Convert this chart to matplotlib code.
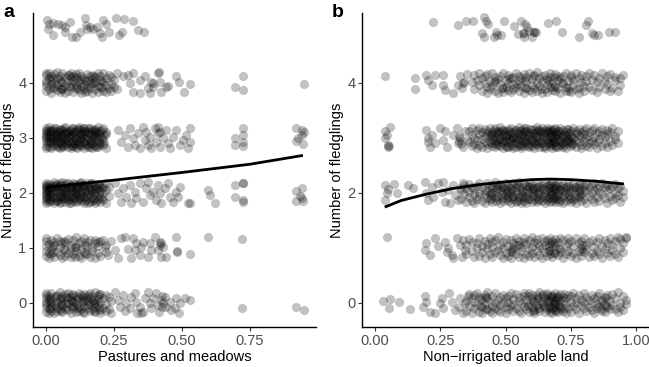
import matplotlib
matplotlib.use("Agg")
import matplotlib.pyplot as plt

plt.rcParams['font.family'] = ['Liberation Sans', 'DejaVu Sans']

# points: (x in %, [vertical jitter in hundredths]) per fledgling count
# ---- panel a: pastures and meadows ----
a0 = [(0,[15,-8,2,-17,9,-3,18]),(1,[-12,6,-19,12]),(2,[3,-6,17,-14]),(3,[10,-2,-18]),(4,[-9,14,1,-15]),
      (5,[7,-11,19]),(6,[-4,12,-16,4]),(7,[16,-7,0]),(8,[-13,8,-1,18]),(9,[5,-18,11]),(10,[-6,15,-10,2]),
      (11,[13,-3,-17]),(12,[-8,9,18,-14]),(13,[1,-12,14]),(14,[-19,6,-5,16]),(15,[11,-9,3]),(16,[-15,17,-2,8]),
      (17,[4,-11,13]),(18,[-7,19,-16,0]),(19,[12,-4,7]),(20,[-13,2,16,-18]),(21,[9,-9]),(22,[-2,15,-14]),
      (1.5,[0,-10,9]),(3.5,[12,-6]),(5.5,[-2,-15,8]),(7.5,[10,-12]),(9.5,[-5,4,16]),(11.5,[7,-10]),
      (13.5,[-16,3,10]),(15.5,[-4,15]),(17.5,[6,-14,-1]),(19.5,[16,-9]),
      (23,[-12,10]),(24,[3,-18]),(25.2,[19]),(26.5,[5]),(27.3,[-7]),(28.3,[14]),(29,[-14]),(29.5,[0]),(30.8,[-10]),
      (31.4,[11]),(32.6,[17]),(33.2,[2]),(33.5,[-19]),(34.4,[-7]),(35.0,[-19]),(35.7,[-16]),(36.3,[8]),(37.5,[19]),
      (38.1,[-1]),(38.7,[-10]),(39.3,[8]),(40.6,[17]),(41.2,[-4]),(41.5,[-16]),(42.4,[5]),(42.8,[-8,12]),(43.2,[0]),
      (43.6,[11]),(44.2,[-7]),(45.5,[2]),(46.1,[-13]),(47.3,[-10]),(47.9,[8]),(48.9,[-18]),(49.1,[-1]),(51.0,[8]),
      (52.8,[5]),(72.2,[-10]),(92,[-7]),(95,[-13])]
a1 = [(0,[12,-5,18,-14,3]),(1,[-9,7,-18]),(2,[15,-2,-12]),(3,[5,-16,10]),(4,[-7,17]),(5,[1,-13,13]),(6,[-18,8]),
      (7,[11,-4,-15]),(8,[16,-9]),(9,[-1,6,-17]),(10,[14,-11]),(11,[-6,19,2]),(12,[8,-14]),(13,[-3,12,-19]),
      (14,[17,-8]),(15,[4,-12,10]),(16,[-16,15]),(17,[0,-6]),(18,[9,-18]),(19,[-10,3]),(20,[13,-15]),(22,[-7,6]),
      (2.5,[4,-8]),(6.5,[-3,12]),(10.5,[2,-16]),(14.5,[-12,6]),
      (17.9,[14]),(19.1,[10]),(21.0,[14]),(21.6,[2]),(22.8,[-13]),(24.0,[13]),(25.2,[-4]),(26.5,[-19]),(27.7,[18]),
      (28.9,[19]),(30.1,[-2]),(31.4,[-19]),(32.0,[18]),(32.6,[-4]),(33.2,[8]),(34.4,[-13]),(35.0,[2]),(35.7,[11]),
      (37.5,[-16]),(38.1,[8]),(38.7,[-4]),(40.0,[19]),(41.2,[-4]),(41.8,[6,10]),(42.4,[-16,8]),(43,[2]),(44.2,[-16]),
      (47.9,[19]),(48,[-8]),(48.2,[-5]),(52.8,[-11]),(59.6,[19]),(72.2,[16])]
a2 = [(0,[18,12,5,-2,-9,-15,-19,8,-5,15,0]),(0.5,[-12,10,3]),(1,[16,-7,-17,6,1]),(2,[-3,13,-14,9]),
      (3,[19,-10,4,-18,11]),(4,[-6,8,-15,15]),(5,[2,-19,12,-8,17]),(6,[-12,6,-2,19]),(7,[14,-16,3,-9,9]),
      (8,[-4,17,-13,7]),(9,[11,-7,-18,0,15]),(10,[-15,5,18,-10]),(11,[8,-3,13,-17,2]),(12,[-11,16,-6,10]),
      (13,[19,-14,4,-1]),(14,[-8,12,-18,7,15]),(15,[3,-12,17,-5]),(16,[-16,9,-2,14]),(17,[6,-9,18,-14]),
      (18,[-4,13,-19,1]),(19,[16,-11,8]),(20,[-7,4,-16,12]),(21,[10,-13,0]),(22,[-18,17,5]),(23,[-6,11]),
      (1.5,[-4,9,-13]),(2.5,[14,0,-8]),(3.5,[-15,6,16]),(4.5,[2,-11,11]),(5.5,[-6,15,-16]),(6.5,[9,-1,-10]),
      (7.5,[17,-5,4]),(8.5,[-12,10,-19]),(9.5,[3,-4,13]),(10.5,[-9,16,-1]),(11.5,[12,-15,5]),(12.5,[-3,18,-10]),
      (13.5,[8,-7,14]),(14.5,[-14,2]),(15.5,[10,-2,-18]),(16.5,[4,17]),(17.5,[-11,0,12]),(18.5,[7,-15]),
      (19.5,[-3,14]),(20.5,[9,-10]),
      (25.2,[18]),(26.5,[-1]),(27.7,[-16]),(28.3,[8]),(29.5,[-7]),(30.8,[14]),(31.4,[-19]),(32.6,[2]),(33.2,[-10]),
      (34.4,[18]),(35.7,[-16]),(36.9,[8]),(37.5,[19]),(38.1,[-4]),(39.3,[2]),(40.6,[-13]),(41.2,[14]),(41.8,[-1]),
      (42.4,[-19]),(43.6,[8]),(44.8,[18]),(45.5,[-7]),(46.7,[-16]),(47.9,[2]),(48.5,[-7]),(49.1,[11]),(52.2,[-19]),
      (52.8,[-19]),(59.6,[5]),(60.2,[-4]),(62,[-18]),(69.5,[15,-7]),(72.5,[17,17,-13,-17]),(92,[3,-15]),
      (93.5,[-5]),(94,[8,-10]),(94.5,[-15])]
a3 = [(0,[17,9,2,-6,-14,-19,13,-1,6]),(0.5,[-10,15]),(1,[11,-4,-16,4,19]),(2,[-8,7,-18,14,0]),(3,[3,-12,18,-5,10]),
      (4,[-15,12,-1,6,-9]),(5,[16,-7,-19,9,2]),(6,[-3,14,-13,5,-17]),(7,[8,-10,19,-2,13]),(8,[-16,4,11,-6]),
      (9,[15,-12,1,-19,7]),(10,[-5,18,-9,10,-14]),(11,[2,-17,13,-3]),(12,[-11,16,6,-7,19]),(13,[9,-15,-1,14]),
      (14,[-18,4,17,-8,11]),(15,[12,-4,-13,1]),(16,[-9,18,7,-16]),(17,[5,-11,14,-2,-19]),(18,[16,-6,10,-14]),
      (19,[-1,8,-17,19]),(20,[13,-9,3]),(21,[-13,17,-4]),(22,[7,-18,11]),
      (1.5,[-8,12,2]),(2.5,[15,-2,-14]),(3.5,[-6,6,17]),(4.5,[10,-17,0]),(5.5,[-10,4,14]),(6.5,[18,-5,-15]),
      (7.5,[-1,9,-12]),(8.5,[13,-8,3]),(9.5,[-15,6,17]),(10.5,[1,-11,11]),(11.5,[16,-5,-18]),(12.5,[-2,9,-13]),
      (13.5,[5,17,-8]),(14.5,[-12,0,13]),(15.5,[8,-17,18]),(16.5,[-4,11,-10]),(17.5,[15,-1,6]),(18.5,[-16,3,12]),
      (19.5,[9,-7,-13]),(20.5,[-1,15]),(21.5,[6,-10]),
      (26.5,[14]),(27.7,[-7]),(28.9,[5]),(30.1,[-16]),(30.8,[18]),(32.0,[-1]),(32.6,[-13]),(33.8,[8]),(34.4,[-19]),
      (35.7,[19]),(36.3,[-4]),(36.9,[11]),(37.5,[-13]),(38.1,[2]),(38.7,[-19]),(40.0,[18]),(40.6,[-7]),(41.2,[8,19]),
      (41.8,[-16,11]),(43.0,[-1]),(44.2,[14]),(44.8,[-10]),(45.5,[-19]),(46.7,[2]),(47.9,[14]),(49.1,[-13]),
      (50.3,[-4]),(51.5,[5]),(52.2,[-19]),(52.8,[18,-7]),(69.5,[-1,-13]),(72.5,[17,5,-8,-15]),(92,[18,-5]),
      (92.5,[0]),(94,[15,5]),(94.5,[-12]),(95,[10])]
a4 = [(0,[14,-6,3,-15,18,-1]),(1,[8,-11,17]),(2,[-3,12,-18,5]),(3,[16,-8,0]),(4,[-13,9,-4,19]),(5,[6,-16,13]),
      (6,[-9,2,18,-12]),(7,[11,-5,-19]),(8,[15,-14,4]),(9,[-7,10,-1,17]),(10,[3,-17,12]),(11,[-10,7,-4,16]),
      (12,[18,-13,1]),(13,[-6,13,-18,6]),(14,[9,-2,-11]),(15,[-15,16,4,-7]),(16,[12,-9,0]),(17,[-18,7,15,-3]),
      (18,[2,-12,10]),(19,[-5,17,-16]),(20,[13,-8,5]),(21,[-14,1,18]),(22,[8,-17,-4]),(23,[14,-10]),
      (24,[-2,11,-15]),(25,[6,-7]),(26,[17,-12]),
      (2.5,[-9,8]),(5.5,[1,-12]),(8.5,[-5,15]),(11.5,[10,-9]),(14.5,[-16,5]),(17.5,[0,12]),(20.5,[-10,3]),
      (28.3,[12]),(30.1,[15]),(30.8,[-1]),(32.0,[18,-16]),(34.4,[6,-19]),(36.3,[12]),(37.5,[-10]),(38.1,[-19]),
      (38.7,[2]),(39.5,[-8,0]),(41.2,[18]),(41.5,[19]),(41.8,[2]),(42.4,[-16]),(44.2,[-7]),(45,[-5]),(47.9,[12]),
      (48.9,[2]),(50.6,[-17]),(52.8,[-2]),(69.5,[-8]),(72.5,[-13,13]),(95,[-2])]
a5 = [(0.2,[15]),(1.2,[7]),(2.7,[8]),(4.5,[7]),(5.8,[5]),(7.0,[2,-8]),(8.8,[11]),(0.8,[-2]),(2.5,[-13]),
      (9.4,[-17]),(11.0,[-17]),(12.5,[-7]),(14.3,[18]),(14.7,[5]),(15.2,[-2]),(16.2,[1]),(17.4,[-2]),(18.6,[2]),
      (19.9,[-9]),(20.5,[-17]),(20.8,[15]),(22.1,[7]),(23.3,[-7]),(25.6,[18]),(27.0,[-13]),(27.8,[-7]),
      (28.7,[16]),(31.9,[12]),(33.9,[-4]),(36.0,[-7])]

# ---- panel b: non-irrigated arable land ----
b0 = [(3,[4]),(5.8,[7]),(5.5,[-10]),(9,[2]),(13.5,[-12]),(18.5,[-7]),(19.1,[12]),(19.7,[2]),(21,[-16]),(23,[-19]),
      (24.9,[-1]),(25.6,[9]),(26.2,[-10]),(28.2,[18]),(29.4,[2]),(30.7,[-13]),(32,[-7]),(32.6,[9]),(33.8,[-18]),
      (34.5,[-1]),(35.8,[12]),
      (35,[3,-14]),(36,[16,-6]),(37,[-18,9]),(38,[1,-10,14]),(39,[-4,18]),(40,[11,-16]),(41,[-8,5,-19]),(42,[15,-2]),
      (43,[-12,8,19]),(44,[3,-15]),(45,[-6,13,-18]),(46,[17,-9,0]),(47,[-13,6]),(48,[10,-4,-17]),(49,[-1,15]),
      (50,[-19,8,-8]),(51,[13,-12,2]),(52,[-5,18]),(53,[7,-15,-2]),(54,[16,-9]),(55,[-14,4,11]),(56,[0,-18]),
      (57,[12,-6,17]),(58,[-11,5]),(59,[18,-16,-3]),(60,[9,-8,14]),(61,[-13,2,-19]),(62,[15,-4,7]),
      (63,[-10,19,-15]),(64,[4,-1,12]),(65,[-17,9,-7]),(66,[14,1,-12,17]),(67,[-5,-16,8,3]),(68,[11,-9,-19,15]),
      (69,[-2,6,-13,18,-8]),(70,[13,-17,0,9]),(71,[-7,16,-11]),(72,[4,-14,11]),(73,[-19,8,-3]),(74,[15,-9]),
      (75,[1,-16,12]),(76,[-6,18]),(77,[9,-12,-1]),(78,[14,-18]),(79,[-4,6]),(80,[17,-10,2]),(81,[-15,10]),
      (82,[5,-7]),(83,[-13,15,0]),(84,[8,-18]),(85,[-3,12,-10]),(86,[17,-5]),(87,[-14,4]),(88,[10,-17,-2]),
      (89,[-8,14]),(90,[3,-12]),(91,[16,-4]),(92,[-11,8]),(93,[19,-16]),(94,[0,-7]),(95,[12,-13]),(96,[-2,6]),
      (40.5,[-5,8]),(42.5,[10,-12]),(58.5,[-6,12]),(60.5,[3,-14]),(62.5,[-9,10]),(64.5,[16,-4]),(66.5,[-8,6]),
      (67.5,[12,-12]),(68.5,[2,-3]),(69.5,[-15,10]),(70.5,[5,-6]),(72.5,[-10,16]),(86.5,[-12,6]),(88.5,[8,-5])]
b1 = [(4.6,[19]),(19.1,[-4]),(19.7,[8]),(21,[-13]),(23,[18]),(24,[3]),(26.8,[11]),(27.5,[-8]),(28.1,[-1]),
      (29.4,[-13]),(30,[-19]),(31.3,[18]),(32.6,[5]),(33.2,[-16]),(33.8,[14]),(34.5,[-4]),
      (35,[6,-12]),(36,[16]),(37,[-5,11]),(38,[-17]),(39,[9,-1]),(40,[18,-14]),(41,[-8,4]),(42,[13,-18]),(43,[-3,7]),
      (44,[17,-11]),(45,[1,-16,10]),(46,[-7,14]),(47,[19,-4]),(48,[-13,6]),(49,[11,-19,0]),(50,[-9,16]),
      (51,[4,-14]),(52,[15,-6,-18]),(53,[-2,9]),(54,[18,-12]),(55,[-16,5,13]),(56,[-5,1]),(57,[10,-18,17]),
      (58,[-11,7]),(59,[14,-3,-15]),(60,[2,19,-9]),(61,[-17,11]),(62,[8,-6,16]),(63,[-13,3]),(64,[17,-19,-1]),
      (65,[-8,12,6]),(66,[14,-15]),(67,[-4,9,-11,18]),(68,[1,-17,13]),(69,[-9,16,5]),(70,[11,-13]),
      (71,[-2,18,-7]),(72,[15,-18]),(73,[-12,4]),(74,[8,-6,17]),(75,[-15,12]),(76,[3,-10]),(77,[17,-19]),
      (78,[-5,9]),(79,[13,-14,0]),(80,[-8,18]),(81,[6,-3]),(82,[-17,11]),(83,[15,-9]),(84,[1,-15]),(85,[10,-6]),
      (86,[-12,17]),(87,[4,-18]),(88,[14,-2]),(89,[-9,8]),(90,[18,-14]),(91,[-4,5]),(92,[12,-11]),(93,[19,-16]),
      (94,[-1,16]),(95,[8,-8]),(96,[17,19]),
      (52.5,[0,-8]),(54.5,[6]),(66.5,[-6,3]),(68.5,[8,-10]),(70.5,[0]),(79.5,[5,-6])]
b2 = [(3.7,[14,-13]),(4.4,[-1]),(5.0,[7]),(7.4,[16]),(8.5,[-1]),(12.6,[14]),(14.5,[8]),(19.1,[19]),(19.7,[-1]),
      (20.4,[-13]),(21.7,[11]),(22.3,[-7]),(24.2,[18]),(25.5,[2]),(26.2,[19]),(26.8,[-16]),(28.1,[5]),(28.7,[-19]),
      (30,[14]),(30.6,[-4]),(31.9,[-13]),(32.6,[8]),(33.8,[18]),
      (33,[5,-12]),(34,[15,-3]),(35,[-17,9]),(36,[2,-8,16]),(37,[-14,11]),(38,[7,-2,-18]),(39,[13,-11]),
      (40,[-6,18,0]),(41,[10,-15]),(42,[-3,6,-19]),(43,[17,-9,3]),(44,[-13,12,-4]),(45,[8,-17,15,-1]),
      (46,[-7,2,19]),(47,[14,-12,-5,9]),(48,[-18,6,16]),(49,[1,-10,11,-15]),(50,[18,-4,7]),(51,[-14,13,-8,3]),
      (52,[9,-19,-1,15]),(53,[-6,17,-12]),(54,[4,-16,10,-3]),(55,[13,-7,19,-13]),(56,[-2,8,-18]),
      (57,[16,-10,2,-15]),(58,[-5,12,-19,6]),(59,[11,-1,17,-12]),(60,[-16,5,-6,14]),(61,[8,-13,1]),
      (62,[18,-8,-17,10]),(63,[-3,13,4,-11]),(64,[15,-15,7]),(65,[-9,0,18,-18]),(66,[6,-5,12,-13]),
      (67,[-17,16,2,9]),(68,[11,-9,-2,19,-14]),(69,[-6,14,4,-16,8]),(70,[17,-11,0,-4]),(71,[-13,7,12]),
      (72,[3,-18,15,-8]),(73,[-1,10,-14]),(74,[13,-6,18]),(75,[-10,2,-17,8]),(76,[16,-13,5]),(77,[-4,11,-19]),
      (78,[9,-8,14,1]),(79,[-15,17,-2]),(80,[6,-11,12]),(81,[-18,3,16]),(82,[10,-5]),(83,[-12,14,0]),
      (84,[18,-16,6]),(85,[-7,9]),(86,[2,-14,13]),(87,[-3,17]),(88,[11,-10]),(89,[-18,5,15]),(90,[8,-6]),
      (91,[-13,13]),(92,[16,0,-9]),(93,[-4,9]),(94,[12,-17]),(95,[3,-7]),
      (44.5,[0,-10]),(46.5,[8,-14]),(48.5,[-4,11]),(50.5,[-12,2]),(52.5,[6,-8]),(54.5,[-15,14]),(56.5,[3,-6]),
      (58.5,[12,-12]),(60.5,[-2,8]),(62.5,[0,-13]),(64.5,[9,-6]),(66.5,[-10,15]),(67.5,[4,-3]),(68.5,[-12,7]),
      (69.5,[12,-9]),(70.5,[-16,6]),(72.5,[8,-4]),(74.5,[-12,3]),(76.5,[10,-9]),(78.5,[-6,6])]
b3 = [(3.7,[12,-1]),(4.4,[6]),(5.6,[19]),(5.0,[-13,-17]),(5.4,[-15]),
      (19.7,[15]),(20.4,[-1,-8]),(21.0,[-16]),(21.7,[6]),(23.0,[-10]),(24.9,[18]),(26.2,[-4]),(26.8,[12]),
      (27.4,[-17]),(30.0,[6]),(31.3,[18]),(31.9,[-10]),(32,[-6,3]),(32.6,[-1]),(33,[-12]),(33.8,[-17]),
      (34.5,[12]),(35.1,[-4]),
      (36,[12,-8]),(37,[-15,5,17]),(38,[0,-11]),(39,[14,-4,-18]),(40,[7,-13,18]),(41,[-2,10,-16]),(42,[16,-7,3]),
      (43,[-12,9,-19,13]),(44,[4,-5,18]),(45,[-14,11,-1,7]),(46,[17,-9,-17,2]),(47,[-6,13,8,-13]),
      (48,[19,-3,-15,10]),(49,[-10,5,15,-19]),(50,[1,-14,12,-6]),(51,[16,-8,6,-17]),(52,[-4,18,-12,9]),
      (53,[11,-1,-18,4]),(54,[-16,14,0,-9]),(55,[7,-11,19,-3]),(56,[-13,3,15,-19]),(57,[10,-6,17,-15,2]),
      (58,[-8,12,-2,18]),(59,[5,-17,9,-11]),(60,[14,-4,-14,1]),(61,[-19,8,16,-7]),(62,[3,-12,11,19]),
      (63,[-5,15,-16,6]),(64,[12,-9,0,17]),(65,[-14,4,-18,9]),(66,[18,-2,13,-10]),(67,[-7,10,-15,2,16]),
      (68,[6,-19,14,-4,-11]),(69,[17,-8,3,-14,10,-1]),(70,[-3,12,-17,7]),(71,[9,-13,18,-6]),(72,[-16,1,14,-9]),
      (73,[11,-5,-18,5]),(74,[-10,16,-2]),(75,[4,-15,12,-7]),(76,[18,-11,0]),(77,[-4,9,-17,13]),(78,[6,-8,16]),
      (79,[-13,2,-19,11]),(80,[15,-6,7]),(81,[-1,-14,18]),(82,[10,-10,3,-17]),(83,[-5,14]),(84,[17,-12,1]),
      (85,[-8,8,-18]),(86,[12,-3]),(87,[-15,5,16]),(88,[1,-9]),(89,[14,-16,7]),(90,[-6,10]),(91,[18,-13]),
      (92,[3,-2]),(93,[-10,12]),
      (44.5,[6,-9]),(45.5,[-4,14]),(46.5,[10,-12]),(47.5,[-2,4]),(48.5,[-8,15]),(49.5,[8,-4]),(50.5,[-16,5]),
      (51.5,[12,-2]),(52.5,[0,-14]),(53.5,[15,-7]),(54.5,[-3,9]),(55.5,[-15,12]),(56.5,[6,-4]),(57.5,[-10,13]),
      (58.5,[3,-15]),(59.5,[16,-2]),(60.5,[-8,8]),(61.5,[2,-12]),(62.5,[14,-5]),(63.5,[-10,10]),(64.5,[5,-16]),
      (65.5,[-2,14]),(66.5,[10,-7]),(67.5,[-12,4,12]),(68.5,[0,-8,16]),(69.5,[-16,7]),(70.5,[12,-5]),
      (71.5,[-9,3]),(72.5,[6,-13]),(73.5,[16,-1]),(74.5,[-6,9]),(75.5,[2,-12])]
b4 = [(3.7,[13]),(15.3,[9,-12]),(19.7,[15]),(20.4,[6]),(21.7,[-4]),(23,[15]),(26.2,[15,-4]),(26.8,[-13]),
      (30,[-19]),(31.9,[-4]),(32.6,[12]),(33.2,[-10]),(33.8,[-1]),(34,[2]),(35.1,[16]),
      (37,[2]),(38,[-12,14]),(39,[6]),(40,[-4,17]),(41,[-15,9]),(42,[12,0]),(43,[-8,16,-18]),(44,[4,-11]),
      (45,[18,-5]),(46,[-14,10,1]),(47,[-19,7]),(48,[13,-3]),(49,[-9,17,-16]),(50,[5,-7]),(51,[15,-13,0]),
      (52,[-17,9]),(53,[11,-2,-12]),(54,[18,-8]),(55,[-15,3,13]),(56,[-5,8]),(57,[16,-18]),(58,[2,-10,10]),
      (59,[-13,17]),(60,[7,-4,-16]),(61,[14,-9]),(62,[-1,19,-14]),(63,[9,-6]),(64,[-18,4,13]),(65,[15,-11]),
      (66,[-3,7,-17]),(67,[11,18,-8]),(68,[-13,2]),(69,[16,-5,-15]),(70,[5,-10,12]),(71,[-18,8]),(72,[13,-1]),
      (73,[-7,17,-14]),(74,[3,-9]),(75,[10,-17,15]),(76,[-4,6]),(77,[17,-12]),(78,[-10,-19,9]),(79,[1,14]),
      (80,[-15,-6]),(81,[12,4]),(82,[-8,18]),(83,[6,-13]),(84,[15]),(85,[-17,2]),(86,[9,-7]),(87,[17]),
      (88,[-11,4]),(89,[-3,13]),(90,[16,-15]),(91,[-9]),(92,[5,11]),(93,[-14]),(94,[8,-4]),(95,[14]),
      (45.5,[4]),(48.5,[-10]),(51.5,[8]),(54.5,[-3]),(57.5,[6,-10]),(60.5,[12]),(63.5,[-12]),(66.5,[3]),
      (68.5,[-8,10]),(71.5,[0]),(74.5,[-14])]
b5 = [(22.4,[10]),(31.8,[5]),(34.9,[12]),(37.4,[12]),(41.7,[19,-17]),(42.7,[13]),(43.2,[7]),(41.0,[-10]),
      (46.2,[-7]),(45.5,[-16]),(46.8,[-13]),(48.1,[-13]),(49.4,[12]),(53.2,[4]),(55.8,[12]),(57.4,[7]),
      (54.9,[-11]),(56.7,[-10]),(57,[-9]),(57.1,[-17]),(58.3,[2]),(59.0,[-5]),(60.3,[-16]),(60.9,[-8]),(61,[-8]),
      (61.5,[-7]),(66.4,[8]),(69.2,[12]),(71.5,[-7]),(78.0,[-16]),(80.8,[5]),(81.8,[12]),(83.3,[-10]),
      (84.0,[-13]),(85.3,[-13]),(89.5,[-8]),(92.0,[-7])]

rows_a = [a0, a1, a2, a3, a4, a5]
rows_b = [b0, b1, b2, b3, b4, b5]

# fitted curves
fit_a_x = [0.0, 0.25, 0.5, 0.75, 0.945]
fit_a_y = [2.10, 2.23, 2.37, 2.52, 2.68]
fit_b_x = [0.037, 0.1, 0.2, 0.3, 0.4, 0.5, 0.6, 0.67, 0.75, 0.85, 0.954]
fit_b_y = [1.74, 1.86, 1.98, 2.08, 2.15, 2.20, 2.24, 2.25, 2.24, 2.21, 2.16]


def expand(rows):
    xs, ys = [], []
    for level, row in enumerate(rows):
        for x, dys in row:
            for d in dys:
                xs.append(x / 100)
                ys.append(level + d / 100)
    return xs, ys


fig = plt.figure(figsize=(6.49, 3.67), dpi=100)
ax1 = fig.add_axes([33 / 649, 40 / 367, 283 / 649, 314 / 367])
ax2 = fig.add_axes([362 / 649, 40 / 367, 287 / 649, 314 / 367])

panels = [
    (ax1, rows_a, fit_a_x, fit_a_y, 'Pastures and meadows', (-0.048, 0.993),
     [0, 0.25, 0.5, 0.75], [0, 1, 2, 3, 4], 'a'),
    (ax2, rows_b, fit_b_x, fit_b_y, 'Non\u2212irrigated arable land', (-0.05, 1.05),
     [0, 0.25, 0.5, 0.75, 1.0], [0, 2, 4], 'b'),
]

for ax, rows, fx, fy, xlab, xlim, xt, yt, letter in panels:
    xs, ys = expand(rows)
    ax.scatter(xs, ys, s=38, facecolor=(0, 0, 0, 0.24), edgecolor=(0, 0, 0, 0.1),
               linewidths=0.6, zorder=2)
    ax.plot(fx, fy, color='black', lw=2.0, zorder=3, solid_capstyle='butt')
    ax.set_xlim(*xlim)
    ax.set_ylim(-0.44, 5.27)
    ax.set_xticks(xt)
    ax.set_xticklabels(['%.2f' % v for v in xt])
    ax.set_yticks(yt)
    ax.set_xlabel(xlab, fontsize=10.5, labelpad=2)
    ax.set_ylabel('Number of fledglings', fontsize=10.5, labelpad=2.5)
    for side in ['top', 'right']:
        ax.spines[side].set_visible(False)
    for side in ['left', 'bottom']:
        ax.spines[side].set_linewidth(1.0)
        ax.spines[side].set_color('black')
    ax.tick_params(length=2.8, width=0.8, color='#333333', labelsize=10.5,
                   labelcolor='#4D4D4D', pad=2)
    ax.set_facecolor('white')

fig.text(3 / 649, 1 - 17 / 367, 'a', fontsize=14, fontweight='bold', va='baseline')
fig.text(332 / 649, 1 - 17 / 367, 'b', fontsize=14, fontweight='bold', va='baseline')

fig.savefig('out.png', dpi=100)
